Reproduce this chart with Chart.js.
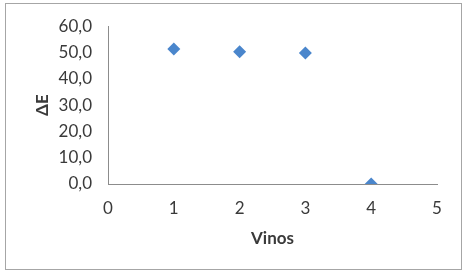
<!DOCTYPE html>
<html>
<head>
<meta charset="utf-8">
<script src="https://cdn.jsdelivr.net/npm/chart.js@4/dist/chart.umd.min.js"></script>
<style>
  html, body { margin: 0; padding: 0; background: #ffffff; }
  .chart-container { position: relative; width: 468px; height: 275px; }
</style>
</head>
<body>
<div class="chart-container">
  <canvas id="myChart"></canvas>
</div>
<script>
// data
const vinos = [1, 2, 3, 4];
const deltaE = [51.3, 50.3, 49.8, 0];
const xTicks = [0, 1, 2, 3, 4, 5];
const yTicks = [0, 10, 20, 30, 40, 50, 60];

const textColor = '#3a3a3a';
const axisColor = '#8c8c8c';

// light gray frame round the whole chart
const framePlugin = {
  id: 'frame',
  beforeDraw(chart) {
    const ctx = chart.ctx;
    ctx.save();
    ctx.fillStyle = '#ffffff';
    ctx.fillRect(0, 0, chart.width, chart.height);
    ctx.strokeStyle = '#a6a6a6';
    ctx.lineWidth = 1;
    ctx.strokeRect(5.5, 3.5, 456, 266);
    ctx.restore();
  },
};

const ctx = document.getElementById('myChart').getContext('2d');
new Chart(ctx, {
  type: 'scatter',
  data: {
    datasets: [
      {
        label: 'ΔE',
        data: vinos.map((v, i) => ({ x: v, y: deltaE[i] })),
        pointStyle: 'rectRot',
        pointRadius: 6.5,
        pointHoverRadius: 6.5,
        backgroundColor: '#4a86cc',
        borderColor: '#4a86cc',
        borderWidth: 0,
      },
    ],
  },
  options: {
    responsive: true,
    maintainAspectRatio: false,
    animation: false,
    layout: { padding: { top: 24, right: 31, bottom: 0, left: 0 } },
    plugins: {
      legend: { display: false },
      tooltip: { enabled: false },
    },
    scales: {
      x: {
        type: 'linear',
        min: 0,
        max: 5,
        afterBuildTicks: (scale) => {
          scale.ticks = xTicks.map((v) => ({ value: v }));
        },
        afterFit: (scale) => {
          scale.height = 91;
        },
        grid: { display: false, drawTicks: false },
        border: { display: true, color: axisColor, width: 1 },
        ticks: {
          color: textColor,
          font: { family: 'Lato', size: 17 },
          padding: 14,
        },
        title: {
          display: true,
          text: 'Vinos',
          color: textColor,
          font: { family: 'Lato', size: 17, weight: 'bold' },
          padding: { bottom: 26 },
        },
      },
      y: {
        type: 'linear',
        min: 0,
        max: 60,
        afterBuildTicks: (scale) => {
          scale.ticks = yTicks.map((v) => ({ value: v }));
        },
        afterFit: (scale) => {
          scale.width = 108;
        },
        grid: { display: false, drawTicks: false },
        border: { display: true, color: axisColor, width: 1 },
        ticks: {
          color: textColor,
          font: { family: 'Lato', size: 17 },
          padding: 16,
          callback: (value) => value.toFixed(1).replace('.', ','),
        },
        title: {
          display: true,
          text: 'ΔE',
          color: textColor,
          font: { family: 'Lato', size: 17, weight: 'bold' },
          padding: { top: 32 },
        },
      },
    },
  },
  plugins: [framePlugin],
});
</script>
</body>
</html>
